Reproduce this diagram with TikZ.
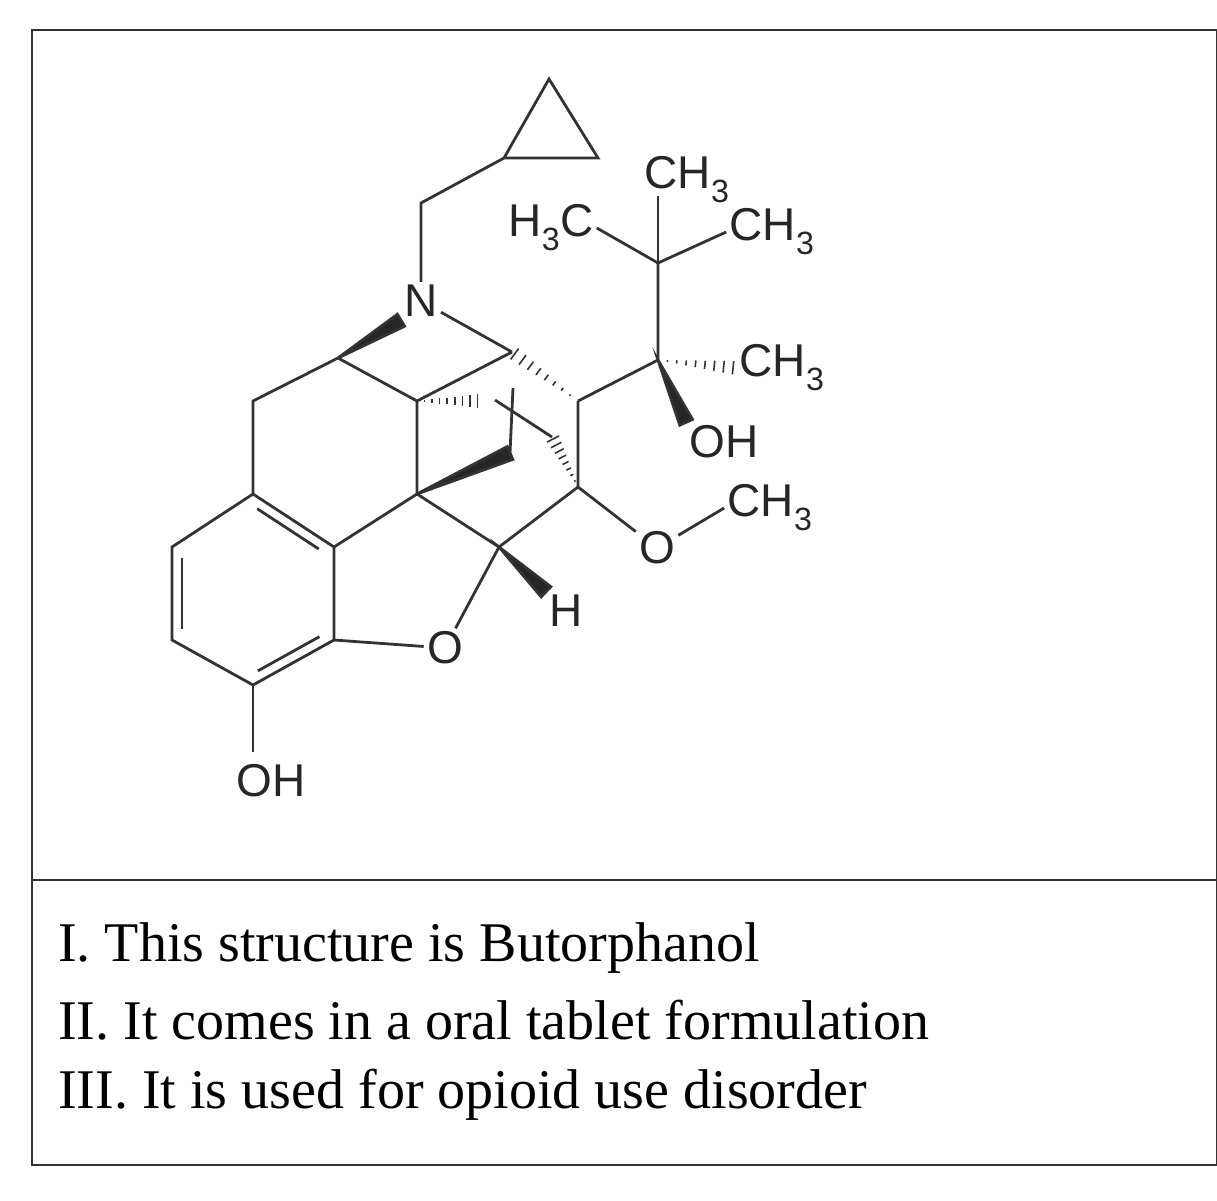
\documentclass[tikz,border=0pt]{standalone}
\usepackage{fontspec}
\setmainfont{Liberation Serif}
\newfontfamily\chem{Liberation Sans}
\usetikzlibrary{calc}
\newcommand\hashb[2]{\foreach \t in {0.12,0.24,...,1.0}{\path ($(#1)!\t!(#2)$) coordinate (hc);
 \draw[line width=1.6pt] ($(hc)!{\t*7pt}!90:(#2)$) -- ($(hc)!{\t*7pt}!-90:(#2)$);}}
\newcommand\wedgeb[2]{\fill[bond] (#1) -- ($(#2)!7pt!90:(#1)$) -- ($(#2)!7pt!-90:(#1)$) -- cycle;}
\begin{document}
\begin{tikzpicture}[x=1pt,y=-1pt,
 bond/.style={draw=black!80,fill=black!85,line width=2.8pt},
 lbl/.style={font=\chem\fontsize{46}{46}\selectfont,inner sep=2pt,text=black!85}]
\useasboundingbox (0,0) rectangle (1217,1200);
\begin{scope}[every path/.style={line width=2.8pt,draw=black!80}]
\draw (32,30) rectangle (1217,1165);
\draw (32,880) -- (1217,880);
% atoms
\coordinate (a1) at (549,79); \coordinate (a2) at (504,158); \coordinate (a3) at (598,158);
\coordinate (ch2) at (421,203);
\node[lbl] (N) at (421,301) {N};
\coordinate (c9) at (338,358); \coordinate (c10) at (253,401);
\coordinate (c11) at (253,494); \coordinate (c12) at (334,547);
\coordinate (c4) at (334,640); \coordinate (c3) at (253,685);
\coordinate (c2) at (172,640); \coordinate (c1) at (172,547);
\node[lbl] (oh1) at (271,781) {OH};
\coordinate (ohb) at (253,752);
\node[lbl] (o1) at (445,648) {O};
\coordinate (c5) at (499,547); \node[lbl] (h) at (566,611) {H};
\coordinate (c13) at (417,494); \coordinate (c14) at (417,401);
\coordinate (c16) at (512,352); \coordinate (c7) at (578,401); \coordinate (c6) at (578,487);
\coordinate (hx) at (480,401); \coordinate (w1) at (510,453);
\coordinate (b1) at (495,400); \coordinate (b2) at (552,437);
\coordinate (v1) at (513,388);
\node[lbl] (o2) at (657,548) {O};
\node[lbl] (me1) at (770,508) {CH\textsubscript{3}};
\coordinate (c20) at (658,360);
\node[lbl] (me2) at (782,368) {CH\textsubscript{3}};
\node[lbl] (oh2) at (724,442) {OH};
\coordinate (c21) at (658,263);
\node[lbl] (me3) at (551,228) {H\textsubscript{3}C};
\node[lbl] (me4) at (687,180) {CH\textsubscript{3}};
\coordinate (me4b) at (658,196);
\node[lbl] (me5) at (772,232) {CH\textsubscript{3}};
% bonds
\draw (a1) -- (a2) -- (a3) -- cycle;
\draw (a2) -- (ch2) -- (N);
\wedgeb{c9}{N.south west}
\draw (N) -- (c16);
\draw (c9) -- (c10) -- (c11) -- (c12) -- (c4) -- (c3) -- (c2) -- (c1) -- (c11);
\draw ($(c11)!0.12!(c12)!10pt!-90:(c12)$) -- ($(c12)!0.12!(c11)!10pt!90:(c11)$);
\draw ($(c3)!0.12!(c4)!10pt!90:(c4)$) -- ($(c4)!0.12!(c3)!10pt!-90:(c3)$);
\draw ($(c1)!0.12!(c2)!10pt!90:(c2)$) -- ($(c2)!0.12!(c1)!10pt!-90:(c1)$);
\draw (c3) -- (ohb);
\draw (c4) -- (o1) -- (c5);
\wedgeb{c5}{h.north west}
\draw (c12) -- (c13) -- (c5) -- (c6) -- (c7);
\draw (c13) -- (c14) -- (c9);
\draw (c14) -- (c16);
\hashb{c14}{hx}
\hashb{c7}{c16}
\hashb{c6}{b2}
\draw (b1) -- (b2);
\draw (v1) -- (w1);
\wedgeb{c13}{w1}
\draw (c6) -- (o2) -- (me1.west);
\draw (c7) -- (c20) -- (c21);
\hashb{c20}{me2.west}
\wedgeb{c20}{oh2.north west}
\draw (c21) -- (me3.east);
\draw (c21) -- (me4b);
\draw (c21) -- (me5.west);
\end{scope}
% text
\begin{scope}[every node/.style={anchor=west,font=\fontsize{56}{56}\selectfont,inner sep=0pt}]
\node at (58,948) {I. This structure is Butorphanol};
\node at (58,1020) {II. It comes in a oral tablet formulation};
\node at (58,1095) {III. It is used for opioid use disorder};
\end{scope}
\end{tikzpicture}
\end{document}
